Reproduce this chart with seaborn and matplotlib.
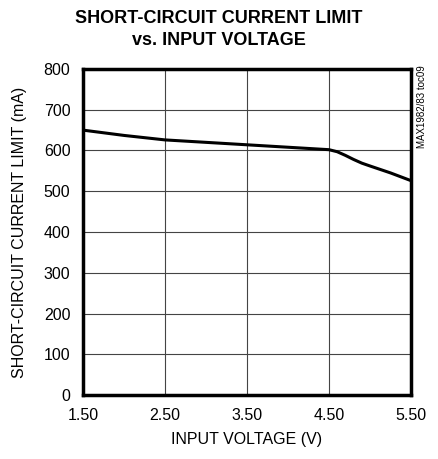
import matplotlib.pyplot as plt
import seaborn as sns
import pandas as pd

# Data
voltage = [1.5, 2.0, 2.5, 3.0, 3.5, 4.0, 4.5, 4.6, 4.7, 4.8, 4.9, 5.0, 5.25, 5.5]
current = [650, 637, 626, 620, 614, 608, 602, 597, 588, 578, 569, 562, 545, 526]
x_ticks = [1.5, 2.5, 3.5, 4.5, 5.5]
x_labels = ["1.50", "2.50", "3.50", "4.50", "5.50"]
y_ticks = [0, 100, 200, 300, 400, 500, 600, 700, 800]

df = pd.DataFrame({"voltage": voltage, "current": current})

sns.set_style("white")
plt.rcParams["font.family"] = ["Liberation Sans", "DejaVu Sans"]
plt.rcParams["text.color"] = "black"
plt.rcParams["axes.labelcolor"] = "black"
plt.rcParams["xtick.color"] = "black"
plt.rcParams["ytick.color"] = "black"

fig = plt.figure(figsize=(4.38, 4.59), dpi=100)
ax = fig.add_axes([83 / 438, 1 - 395 / 459, 328 / 438, 326 / 459])

sns.lineplot(x="voltage", y="current", data=df, ax=ax, color="black", linewidth=2.2)

ax.set_xlim(1.5, 5.5)
ax.set_ylim(0, 800)
ax.set_xticks(x_ticks)
ax.set_xticklabels(x_labels)
ax.set_yticks(y_ticks)
ax.grid(True, color="#444444", linewidth=0.8)
ax.tick_params(length=0, labelsize=11.5, pad=9)
for s in ax.spines.values():
    s.set_linewidth(2.5)
    s.set_color("black")

ax.set_xlabel("INPUT VOLTAGE (V)", fontsize=11.5, labelpad=7)
ax.set_ylabel("SHORT-CIRCUIT CURRENT LIMIT (mA)", fontsize=11.5, labelpad=12)
fig.text(0.5, 0.978, "SHORT-CIRCUIT CURRENT LIMIT\nvs. INPUT VOLTAGE", ha="center", va="top",
         fontsize=13, fontweight="bold", linespacing=1.35)
fig.text(0.951, 0.767, "MAX1982/83 toc09", rotation=90, ha="left", va="center", fontsize=7)

plt.savefig("out.png", dpi=100)
